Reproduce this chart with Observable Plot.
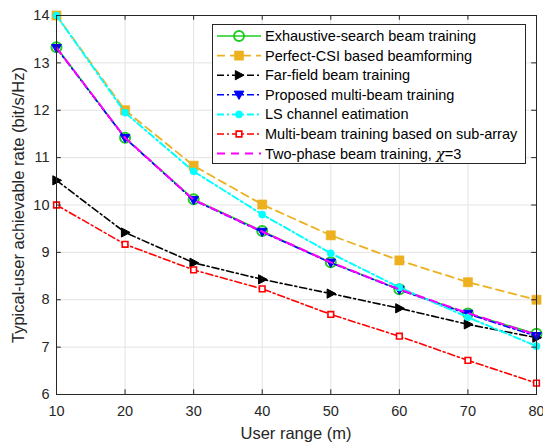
<!DOCTYPE html>
<html>
<head>
<meta charset="utf-8">
<script src="https://cdn.jsdelivr.net/npm/d3@7"></script>
<script src="https://cdn.jsdelivr.net/npm/@observablehq/plot@0.6"></script>
<style>
  html, body { margin: 0; padding: 0; background: #fff; }
  #wrap { position: relative; width: 543px; height: 442px; }
  #wrap svg { position: absolute; left: 0; top: 0; }
</style>
</head>
<body>
<div id="wrap"></div>
<script>
// ---- data ----
const userRange = [10, 20, 30, 40, 50, 60, 70, 80];
const exhaustive = [13.33, 11.42, 10.12, 9.45, 8.79, 8.22, 7.71, 7.28];
const perfectCSI = [14.0, 12.0, 10.83, 10.01, 9.36, 8.83, 8.37, 8.0];
const farField   = [10.52, 9.42, 8.78, 8.43, 8.13, 7.82, 7.48, 7.2];
const proposed   = [13.31, 11.41, 10.1, 9.43, 8.78, 8.21, 7.7, 7.23];
const lsEst      = [14.0, 11.95, 10.71, 9.8, 8.98, 8.26, 7.63, 7.02];
const subArray   = [10.0, 9.17, 8.63, 8.23, 7.69, 7.23, 6.72, 6.24];
const twoPhase   = [13.32, 11.42, 10.11, 9.44, 8.79, 8.22, 7.72, 7.26];

const xTicks = [10, 20, 30, 40, 50, 60, 70, 80];
const yTicks = [6, 7, 8, 9, 10, 11, 12, 13, 14];
const xLabel = "User range (m)";
const yLabel = "Typical-user achievable rate (bit/s/Hz)";

// ---- custom marker shapes ----
const triRight = {draw(ctx, size) {
  const r = Math.sqrt(size / Math.PI);
  ctx.moveTo(r * 1.1, 0); ctx.lineTo(-r * 0.8, -r * 1.0); ctx.lineTo(-r * 0.8, r * 1.0); ctx.closePath();
}};
const triDown = {draw(ctx, size) {
  const r = Math.sqrt(size / Math.PI);
  ctx.moveTo(0, r * 1.0); ctx.lineTo(-r * 1.05, -r * 0.8); ctx.lineTo(r * 1.05, -r * 0.8); ctx.closePath();
}};

const series = [
  {name: "Exhaustive-search beam training", values: exhaustive, color: "#1fcc1f", dash: null, width: 1.5,
   symbol: "circle", r: 5, fill: "none", mstroke: "#1fcc1f", msw: 2},
  {name: "Perfect-CSI based beamforming", values: perfectCSI, color: "#EDB120", dash: "8,5", width: 1.8,
   symbol: "square", r: 5.2, fill: "#EDB120", mstroke: "#EDB120", msw: 0.5},
  {name: "Far-field beam training", values: farField, color: "#000000", dash: "7,3,2,3", width: 1.6,
   symbol: triRight, r: 4.6, fill: "#000000", mstroke: "#000000", msw: 1},
  {name: "Proposed multi-beam training", values: proposed, color: "#0000ff", dash: "7,3,2,3", width: 1.6,
   symbol: triDown, r: 4.6, fill: "#0000ff", mstroke: "#0000ff", msw: 1},
  {name: "LS channel eatimation", values: lsEst, color: "#00ffff", dash: "7,3,2,3", width: 2,
   symbol: "circle", r: 3.6, fill: "#00ffff", mstroke: "#00ffff", msw: 0.5},
  {name: "Multi-beam training based on sub-array", values: subArray, color: "#ff0000", dash: "7,3,2,3", width: 1.6,
   symbol: "square", r: 3.2, fill: "#ffffff", mstroke: "#ff0000", msw: 1.6},
  {name: "Two-phase beam training, ", values: twoPhase, color: "#ff00ff", dash: "8,6", width: 2,
   symbol: null}
];

const rows = [];
series.forEach((s, si) => s.values.forEach((v, i) => rows.push({s: si, x: userRange[i], y: v})));

const font = "'Liberation Sans', Arial, Helvetica, sans-serif";
const yDom = [6, 14], xDom = [10, 80];

const marks = [
  Plot.gridX(xTicks, {stroke: "#e3e3e3", strokeOpacity: 1, strokeWidth: 1}),
  Plot.gridY(yTicks, {stroke: "#e3e3e3", strokeOpacity: 1, strokeWidth: 1}),
  Plot.axisX(xTicks, {tickSize: 0, tickPadding: 11, label: null, fill: "#262626"}),
  Plot.axisY(yTicks, {tickSize: 0, tickPadding: 7, label: null, fill: "#262626"}),
];
series.forEach((s, si) => {
  const data = rows.filter(d => d.s === si);
  marks.push(Plot.line(data, {x: "x", y: "y", stroke: s.color, strokeWidth: s.width,
    strokeDasharray: s.dash || undefined, strokeLinejoin: "round"}));
  if (s.symbol) {
    marks.push(Plot.dot(data, {x: "x", y: "y", symbol: s.symbol, r: s.r, fill: s.fill,
      stroke: s.mstroke, strokeWidth: s.msw}));
  }
});
// inward ticks on all four sides
marks.push(
  Plot.ruleX(xTicks, {x: d => d, y1: yDom[0], y2: yDom[0] + 0.1, stroke: "#262626"}),
  Plot.ruleX(xTicks, {x: d => d, y1: yDom[1], y2: yDom[1] - 0.1, stroke: "#262626"}),
  Plot.ruleY(yTicks, {y: d => d, x1: xDom[0], x2: xDom[0] + 0.7, stroke: "#262626"}),
  Plot.ruleY(yTicks, {y: d => d, x1: xDom[1], x2: xDom[1] - 0.7, stroke: "#262626"}),
  Plot.frame({stroke: "#262626", strokeWidth: 1})
);

const chart = Plot.plot({
  width: 543, height: 442,
  marginLeft: 56, marginRight: 7, marginTop: 15, marginBottom: 48,
  x: {domain: xDom},
  y: {domain: yDom},
  style: {fontFamily: font, fontSize: "14.5px", background: "#fff", color: "#262626"},
  marks
});
document.getElementById("wrap").appendChild(chart);

// ---- axis labels & legend overlay ----
const ov = d3.select("#wrap").append("svg")
  .attr("width", 543).attr("height", 442)
  .style("pointer-events", "none")
  .style("font-family", font);

ov.append("text").attr("x", 296).attr("y", 439)
  .attr("text-anchor", "middle").attr("font-size", "16.5px").attr("fill", "#262626")
  .text(xLabel);
ov.append("text").attr("transform", "translate(24,205) rotate(-90)")
  .attr("text-anchor", "middle").attr("font-size", "16.5px").attr("fill", "#262626")
  .text(yLabel);

const lg = ov.append("g");
lg.append("rect").attr("x", 212.5).attr("y", 24.5).attr("width", 313).attr("height", 139)
  .attr("fill", "#fff").attr("stroke", "#262626").attr("stroke-width", 1);
series.forEach((s, i) => {
  const cy = 36 + i * 19.6;
  lg.append("line").attr("x1", 217).attr("x2", 261).attr("y1", cy).attr("y2", cy)
    .attr("stroke", s.color).attr("stroke-width", s.width)
    .attr("stroke-dasharray", s.dash || null);
  if (s.symbol) {
    const type = s.symbol === "circle" ? d3.symbolCircle : s.symbol === "square" ? d3.symbolSquare : s.symbol;
    lg.append("path").attr("transform", `translate(239,${cy})`)
      .attr("d", d3.symbol(type, s.r * s.r * Math.PI)())
      .attr("fill", s.fill).attr("stroke", s.mstroke).attr("stroke-width", s.msw);
  }
  const t = lg.append("text").attr("x", 265).attr("y", cy).attr("dy", "0.35em")
    .attr("font-size", "14.5px").attr("fill", "#000").text(s.name);
  if (i === series.length - 1) {
    t.append("tspan").attr("font-style", "italic").attr("font-family", "'DejaVu Serif', serif").text("χ");
    t.append("tspan").text("=3");
  }
});
</script>
</body>
</html>
